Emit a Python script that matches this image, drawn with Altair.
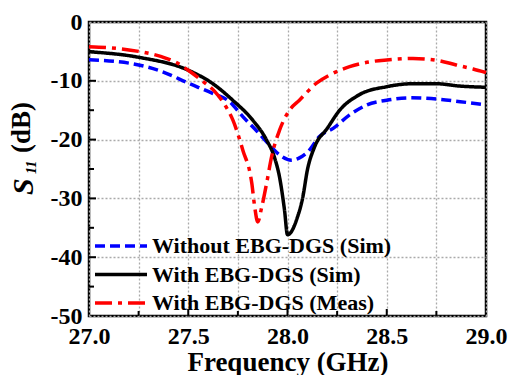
import altair as alt
import pandas as pd

# ---------------- data ----------------
names = ["Without EBG-DGS (Sim)", "With EBG-DGS (Sim)", "With EBG-DGS (Meas)"]
colors = ["#0000ff", "#000000", "#ff0000"]
dashes = [[10, 5], [1, 0], [17, 6, 4, 6]]

f_wo = [27.0, 27.25, 27.365, 27.5, 27.62, 27.71, 27.775, 27.85, 27.92, 27.96, 28.02,
        28.06, 28.11, 28.16, 28.23, 28.313, 28.4, 28.5, 28.616, 28.75, 28.87, 29.0]
s_wo = [-6.4, -7.3, -8.4, -10.4, -12.1, -13.6, -16.1, -18.7, -21.3, -22.6, -23.5,
        -23.1, -21.8, -19.5, -18.1, -15.8, -14.1, -13.3, -12.9, -13.1, -13.55, -14.1]

f_sim = [27.0, 27.25, 27.5, 27.62, 27.724, 27.825, 27.895, 27.935, 27.96, 27.985, 28.0,
         28.05, 28.077, 28.1, 28.137, 28.2, 28.263, 28.36, 28.5, 28.63, 28.75, 28.87, 29.0]
s_sim = [-5.05, -6.0, -8.2, -10.4, -13.3, -16.7, -20.1, -23.1, -26.4, -32.0, -36.2,
         -33.2, -29.8, -25.2, -21.2, -18.1, -15.0, -12.4, -11.0, -10.5, -10.5, -10.9, -11.1]

f_meas = [27.0, 27.146, 27.25, 27.365, 27.44, 27.5, 27.566, 27.633, 27.69, 27.725, 27.775,
          27.82, 27.835, 27.85, 27.87, 27.895, 27.92, 27.96, 28.01, 28.06, 28.146, 28.213,
          28.313, 28.42, 28.5, 28.632, 28.75, 28.85, 28.935, 29.0]
s_meas = [-4.2, -4.5, -5.0, -5.9, -6.9, -8.2, -9.9, -11.8, -14.4, -16.7, -21.8,
          -27.4, -31.5, -34.0, -31.5, -27.4, -22.9, -18.4, -15.0, -13.3, -10.4, -9.0,
          -7.6, -6.75, -6.46, -6.2, -6.5, -7.3, -8.0, -8.6]

x_ticks_major = [27.5, 28.0, 28.5]
x_ticks_minor = [27.25, 27.75, 28.25, 28.75]
y_ticks_major = [-40, -30, -20, -10]
y_ticks_minor = [-45, -35, -25, -15, -5]
x_grid = [27.0, 27.25, 27.5, 27.75, 28.0, 28.25, 28.5, 28.75, 29.0]
y_grid = [-50, -45, -40, -35, -30, -25, -20, -15, -10, -5, 0]

rows = []
for name, fs, ss in zip(names, [f_wo, f_sim, f_meas], [s_wo, s_sim, s_meas]):
    for f, s in zip(fs, ss):
        rows.append({"freq": f, "s11": s, "series": name})
df = pd.DataFrame(rows)

FONT = "Liberation Serif"
W, H = 397, 294

xscale = alt.Scale(domain=[27, 29], nice=False, zero=False)
yscale = alt.Scale(domain=[-50, 0], nice=False, zero=False)

lines = alt.Chart(df).mark_line(strokeWidth=3.5, interpolate="monotone").encode(
    x=alt.X("freq:Q", scale=xscale,
            axis=alt.Axis(values=x_grid, title="Frequency (GHz)",
                          labelExpr="(datum.value*2) % 1 == 0 ? format(datum.value, '.1f') : ''",
                          labelFont=FONT, labelFontSize=24, labelFontWeight="bold",
                          labelColor="black", labelPadding=8, labelFlush=False,
                          labelOverlap=False, ticks=False, domain=False,
                          grid=True, gridDash=[2, 2], gridColor="#aaaaaa", gridWidth=1.3,
                          titleFont=FONT, titleFontSize=27, titleFontWeight="bold",
                          titleColor="black", titleBaseline="alphabetic", titleY=54)),
    y=alt.Y("s11:Q", scale=yscale,
            axis=alt.Axis(values=y_grid, title=None,
                          labelExpr="datum.value % 10 == 0 ? toString(datum.value) : ''",
                          labelFont=FONT, labelFontSize=24, labelFontWeight="bold",
                          labelColor="black", labelPadding=7, labelFlush=False,
                          labelOverlap=False, ticks=False, domain=False,
                          grid=True, gridDash=[2, 2], gridColor="#aaaaaa", gridWidth=1.3)),
    color=alt.Color("series:N", scale=alt.Scale(domain=names, range=colors),
                    legend=alt.Legend(orient="none", legendX=4, legendY=213, title=None,
                                      symbolType="stroke", symbolSize=2704,
                                      symbolStrokeWidth=3.5, clipHeight=22,
                                      rowPadding=6.5, labelOffset=3, padding=0,
                                      labelFont=FONT, labelFontSize=22,
                                      labelFontWeight="bold", labelColor="black",
                                      labelLimit=400)),
    strokeDash=alt.StrokeDash("series:N", scale=alt.Scale(domain=names, range=dashes),
                              legend=None),
)

def xtick_layer(vals, length):
    return alt.Chart(pd.DataFrame({"freq": vals})).mark_rule(color="black", strokeWidth=2).encode(
        x=alt.X("freq:Q", scale=xscale),
        y=alt.value(H), y2=alt.value(H - length))

def ytick_layer(vals, length):
    return alt.Chart(pd.DataFrame({"s11": vals})).mark_rule(color="black", strokeWidth=2).encode(
        y=alt.Y("s11:Q", scale=yscale),
        x=alt.value(0), x2=alt.value(length))

one = pd.DataFrame({"a": [1]})
t_s = alt.Chart(one).mark_text(text="S", font=FONT, fontSize=30, fontStyle="italic",
                               fontWeight="bold", angle=270, align="left",
                               baseline="alphabetic", color="black").encode(
    x=alt.value(-56), y=alt.value(173))
t_11 = alt.Chart(one).mark_text(text="11", font=FONT, fontSize=14, fontStyle="italic",
                                fontWeight="bold", angle=270, align="left",
                                baseline="alphabetic", color="black").encode(
    x=alt.value(-53), y=alt.value(152))
t_db = alt.Chart(one).mark_text(text="(dB)", font=FONT, fontSize=27,
                                fontWeight="bold", angle=270, align="left",
                                baseline="alphabetic", color="black").encode(
    x=alt.value(-59), y=alt.value(131))

chart = alt.layer(
    lines,
    xtick_layer(x_ticks_major, 7), xtick_layer(x_ticks_minor, 5),
    ytick_layer(y_ticks_major, 7), ytick_layer(y_ticks_minor, 5),
    t_s, t_11, t_db,
).properties(
    width=W, height=H,
    autosize=alt.AutoSizeParams(type="none"),
    padding={"left": 89, "top": 22, "right": 23, "bottom": 59},
    background="white",
).configure_view(stroke="black", strokeWidth=2.5)

chart.save("out.html", embed_options={"renderer": "svg", "actions": False})
